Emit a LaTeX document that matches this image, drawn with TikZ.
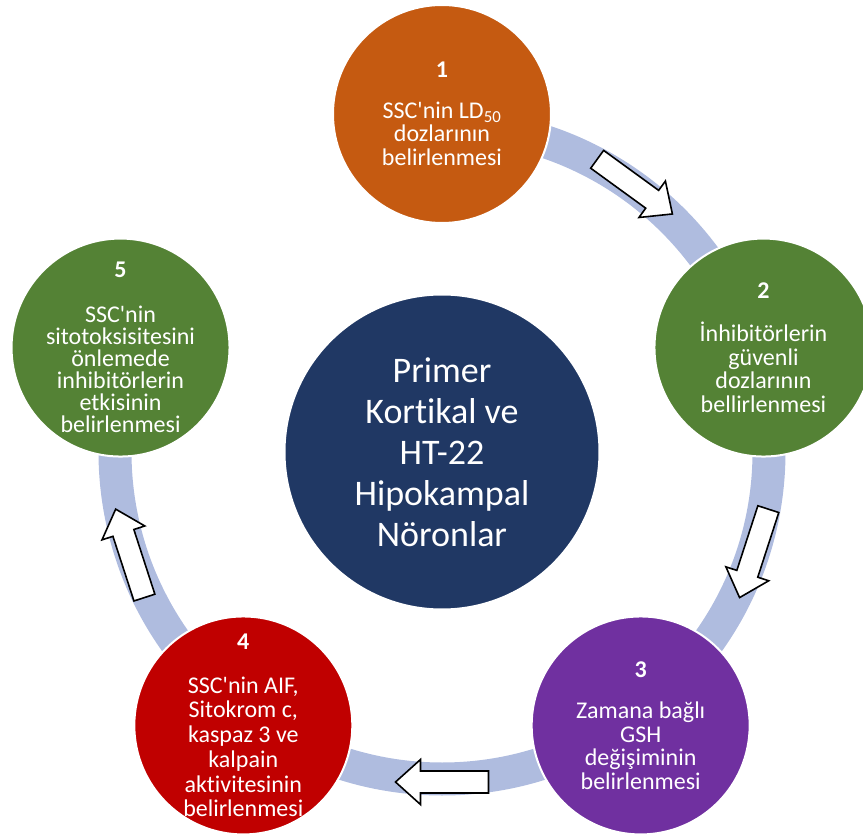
\documentclass[tikz,border=0pt]{standalone}
\usepackage{fontspec}
\setmainfont{Carlito}[Ligatures=NoCommon]
\usepackage{tikz}
\usetikzlibrary{positioning,calc}
\definecolor{skorange}{HTML}{C55A11}
\definecolor{skgreen}{HTML}{548235}
\definecolor{skpurple}{HTML}{7030A0}
\definecolor{skred}{HTML}{C00000}
\definecolor{sknavy}{HTML}{203864}
\definecolor{skring}{HTML}{AFBCDF}
\newcommand{\ap}{\textquotesingle}

\begin{document}
\begin{tikzpicture}[x=1pt,y=1pt,
  stepdisc/.style={circle,draw=white,line width=2pt,minimum size=218pt,inner sep=0pt},
  steptext/.style={align=center,text=white,inner sep=0pt,font=\fontsize{24}{23.5}\selectfont},
  hubdisc/.style={circle,draw=white,line width=2pt,fill=sknavy,minimum size=315pt,inner sep=0pt,
    align=center,text=white,font=\fontsize{36}{41}\selectfont},
  cyclering/.style={draw=skring,line width=33pt},
  blockarr/.pic={\draw[fill=white,line width=1.6pt,line join=miter]
    (-46.5,-11) -- (21.5,-11) -- (21.5,-22.5) -- (46.5,0) -- (21.5,22.5) -- (21.5,11) -- (-46.5,11) -- cycle;}]
  \useasboundingbox (-442,-387) rectangle (421,452);
  % ring under the steps
  \draw[cyclering] (90:327) arc[start angle=90,end angle=-198,radius=327];
  \node[hubdisc] (hub) at (0,0) {Primer\\Kortikal ve\\HT-22\\Hipokampal\\Nöronlar};
  % the five steps
  \node[stepdisc,fill=skorange] (s1) at (90:338) {};
  \node[stepdisc,fill=skgreen] (s2) at (18:338) {};
  \node[stepdisc,fill=skpurple] (s3) at (-54:338) {};
  \node[stepdisc,fill=skred] (s4) at (-126:338) {};
  \node[stepdisc,fill=skgreen] (s5) at (162:338) {};
  \node[steptext] (t1) at (s1) {\textbf{1}\\[17pt]SSC\ap nin LD\textsubscript{50}\\dozlarının\\belirlenmesi};
  \node[steptext] (t2) at (s2) {\textbf{2}\\[20pt]İnhibitörlerin\\güvenli\\dozlarının\\bellirlenmesi};
  \node[steptext] (t3) at (s3) {\textbf{3}\\[18pt]Zamana bağlı\\GSH\\değişiminin\\belirlenmesi};
  \node[steptext,font=\fontsize{24}{24.7}\selectfont] (t4) at (s4) {\textbf{4}\\[19pt]SSC\ap nin AIF,\\Sitokrom c,\\kaspaz 3 ve\\kalpain\\aktivitesinin\\belirlenmesi};
  \node[steptext,font=\fontsize{24}{22}\selectfont] (t5) at (s5) {\textbf{5}\\[23pt]SSC\ap nin\\sitotoksisitesini\\önlemede\\inhibitörlerin\\etkisinin\\belirlenmesi};
  % block arrows on the ring
  \pic[rotate=-36] (a12) at (54:328) {blockarr};
  \pic[rotate=-108] (a23) at (-18:328) {blockarr};
  \pic[rotate=180] (a34) at (-90:330) {blockarr};
  \pic[rotate=108] (a45) at (-162:328) {blockarr};
\end{tikzpicture}
\end{document}
